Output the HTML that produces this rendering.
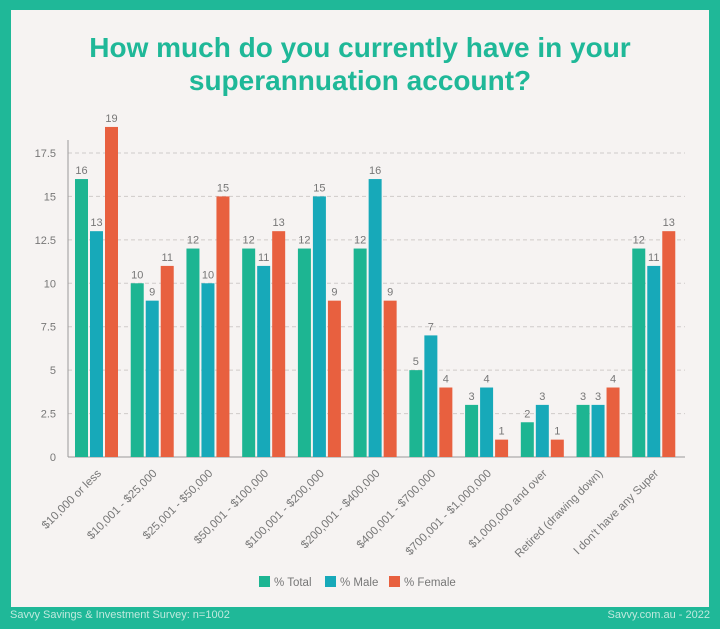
<!DOCTYPE html>
<html><head><meta charset="utf-8"><style>
html,body{margin:0;padding:0}
body{width:720px;height:629px;background:#1fb898;position:relative;overflow:hidden;font-family:"Liberation Sans",sans-serif}
#panel{position:absolute;left:11px;top:10px;width:698px;height:597px;background:#f6f3f2}
#title{position:absolute;left:0;top:31px;width:720px;text-align:center;color:#1fb898;font-weight:bold;font-size:28px;line-height:33px}
.foot{position:absolute;top:609px;font-size:11px;color:#bfe9de}
</style></head><body>
<div id="panel"></div>
<div id="title">How much do you currently have in your<br>superannuation account?</div>
<svg id="chart" width="720" height="629" style="position:absolute;left:0;top:0"></svg>
<div class="foot" style="left:10px">Savvy Savings &amp; Investment Survey: n=1002</div>
<div class="foot" style="right:10px">Savvy.com.au - 2022</div>
<script>
const categories=["$10,000 or less","$10,001 - $25,000","$25,001 - $50,000","$50,001 - $100,000","$100,001 - $200,000","$200,001 - $400,000","$400,001 - $700,000","$700,001 - $1,000,000","$1,000,000 and over","Retired (drawing down)","I don't have any Super"];
const totalValues=[16,10,12,12,12,12,5,3,2,3,12];
const maleValues=[13,9,10,11,15,16,7,4,3,3,11];
const femaleValues=[19,11,15,13,9,9,4,1,1,4,13];
const yTicks=[0,2.5,5,7.5,10,12.5,15,17.5];
const seriesNames=["% Total","% Male","% Female"];
const colors=["#1db592","#17a9b9","#e8603f"];
const NS="http://www.w3.org/2000/svg";
const svg=document.getElementById('chart');
const x0=68,x1=681,y0=457,yTop=153,maxV=17.5;
const gw=(x1-x0)/categories.length;
function y(v){return y0-(v/maxV)*(y0-yTop);}
function mk(t,a){const e=document.createElementNS(NS,t);for(const k in a)e.setAttribute(k,a[k]);svg.appendChild(e);return e;}
yTicks.forEach(t=>{
 if(t>0){const g=mk('line',{x1:x0,x2:685,y1:y(t),y2:y(t),stroke:'#cfcbc9','stroke-dasharray':'4,3'});
 
 }
 const l=mk('text',{x:56,y:y(t)+4,'text-anchor':'end','font-size':'11',fill:'#777'});l.textContent=String(t);
 
 
});
const ax=mk('line',{x1:x0,x2:x0,y1:140,y2:y0,stroke:'#999'});


const bx=mk('line',{x1:x0,x2:685,y1:y0,y2:y0,stroke:'#999'});


const series=[totalValues,maleValues,femaleValues];
categories.forEach((c,i)=>{
 const gx=x0+i*gw+7;
 series.forEach((s,j)=>{
  const bxp=gx+j*15,v=s[i];
  const r=mk('rect',{x:bxp,y:y(v),width:13,height:y0-y(v),fill:colors[j]});
  
  
  const t=mk('text',{x:bxp+6.5,y:y(v)-5,'text-anchor':'middle','font-size':'11',fill:'#777'});t.textContent=v;
  
  
 });
 const cx=x0+i*gw+gw/2+6,cy=474;
 const l=mk('text',{x:cx,y:cy,'text-anchor':'end','font-size':'11.5',fill:'#777',transform:`rotate(-45 ${cx} ${cy})`});l.textContent=c;
 
 
});
let lx=259;
seriesNames.forEach((n,j)=>{
 const r=mk('rect',{x:lx,y:576,width:11,height:11,fill:colors[j]});
 
 
 const t=mk('text',{x:lx+15,y:586,'font-size':'11.5',fill:'#777'});t.textContent=n;
 
 
 lx+=[66,64,0][j];
});
</script>
</body></html>
